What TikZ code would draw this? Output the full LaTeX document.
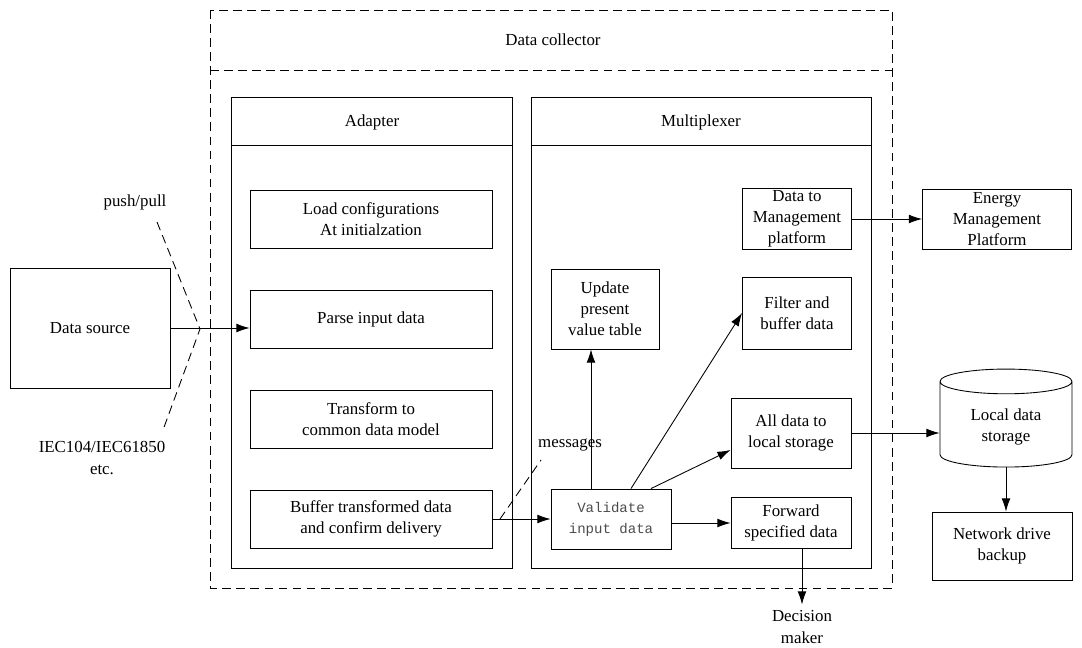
\documentclass[tikz,border=0pt]{standalone}
\usepackage{fontspec}
\setmainfont{Liberation Serif}
\newfontfamily\monofont{Liberation Mono}
\usetikzlibrary{arrows.meta,shapes.geometric}

\tikzset{
	blk/.style={draw, align=center, inner sep=1pt},
	adbox/.style={blk, minimum width=4.84cm, minimum height=1.16cm},
	mxbox/.style={blk, minimum width=2.18cm, minimum height=1.2cm},
	frame/.style={dash pattern=on 5pt off 3pt},
	store/.style={draw, cylinder, shape border rotate=90, aspect=0.3,
		minimum width=2.64cm, minimum height=1.96cm, align=center},
}

\begin{document}
\begin{tikzpicture}[x=0.02cm, y=-0.02cm, line width=0.5pt,
		font=\fontsize{9.6}{12}\selectfont,
		>={Latex[length=7.5pt,width=5pt]}]
		\useasboundingbox (0,0) rectangle (1082,647);

		% data collector
		\draw[frame] (210,10) rectangle (892,588);
		\draw[frame] (210,70) -- (892,70);
		\node at (553,40) (dc) {Data collector};

		% adapter
		\draw (231,97) rectangle (512,568);
		\draw (231,145) -- (512,145);
		\node at (372,122) (adp) {Adapter};
		\node[adbox] at (371,219) (load) {Load configurations\\At initialzation};
		\node[adbox] at (371,319) (parse) {Parse input data};
		\node[adbox] at (371,419) (trans) {Transform to\\common data model};
		\node[adbox] at (371,519) (buf) {Buffer transformed data\\and confirm delivery};

		% multiplexer
		\draw (531,97) rectangle (871,568);
		\draw (531,145) -- (871,145);
		\node at (701,122) (mux) {Multiplexer};
		\node[mxbox, minimum width=2.16cm, minimum height=1.6cm] at (605,309) (upd) {Update\\present\\value table};
		\node[mxbox, minimum height=1.2cm] at (797,219) (dtm) {Data to\\Management\\platform};
		\node[mxbox, minimum height=1.44cm] at (797,313) (filt) {Filter and\\buffer data};
		\node[mxbox, minimum width=2.4cm, minimum height=1.4cm] at (791,433) (alld) {All data to\\local storage};
		\node[mxbox, minimum width=2.4cm, minimum height=1.02cm] at (791,523) (fwd) {Forward\\specified data};
		\node[blk, minimum width=2.4cm, minimum height=1.2cm, text=black!70,
			font=\monofont\fontsize{8}{12}\selectfont] at (611,519) (val) {Validate\\input data};

		% outside
		\node[blk, minimum width=3.2cm, minimum height=2.4cm] at (90,328) (src) {Data source};
		\node[blk, minimum width=2.98cm, minimum height=1.2cm] at (997,219) (emp) {Energy\\Management\\Platform};
		\node[store] at (1006,427) (lds) {Local data\\storage};
		\node[blk, minimum width=2.8cm, minimum height=1.36cm] at (1002,546) (net) {Network drive\\backup};
		\node[align=center] at (802,627) (dm) {Decision\\maker};

		\node at (135,202) (pp) {push/pull};
		\node[align=center] at (102,458) (iec) {IEC104/IEC61850\\etc.};
		\node at (570,445) (msg) {messages};
		\coordinate (x1) at (200,329);
		\coordinate (x2) at (500,519);

		% connectors
		\draw[->] (src.east) -- (src.east -| parse.west);
		\draw[frame] (157,222) -- (x1) -- (163,430);
		\draw[->] (buf.east) -- (val.west);
		\draw[frame] (x2) -- (541,460);
		\draw[->] ([xshift=-0.4cm]val.north) -- ([xshift=-0.4cm]val.north |- upd.south);
		\draw[->] ([xshift=0.4cm]val.north) -- (filt.west);
		\draw[->] ([xshift=0.8cm]val.north) -- ([yshift=-0.34cm]alld.west);
		\draw[->] (val.east |- fwd.west) -- (fwd.west);
		\draw[->] (fwd.south -| dm.north) -- (dm.north);
		\draw[->] (dtm.east) -- (emp.west);
		\draw[->] (alld.east) -- (alld.east -| lds.west);
		\draw[->] (lds.south) -- (lds.south |- net.north);
\end{tikzpicture}
\end{document}
